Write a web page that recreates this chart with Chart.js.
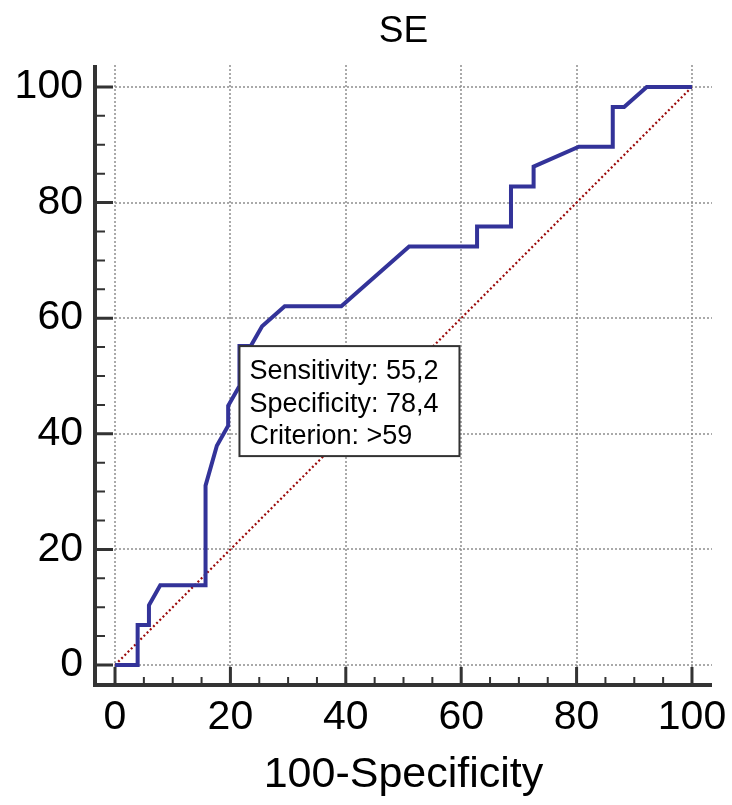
<!DOCTYPE html>
<html>
<head>
<meta charset="utf-8">
<title>SE ROC</title>
<script src="https://cdn.jsdelivr.net/npm/chart.js@4.4.0/dist/chart.umd.min.js"></script>
<style>
  html, body { margin: 0; padding: 0; background: #fff; }
  #wrap { width: 732px; height: 805px; }
</style>
</head>
<body>
<div id="wrap"><canvas id="roc" width="732" height="805"></canvas></div>
<script>
// ROC curve values (100-Specificity vs Sensitivity)
const fpr = [0, 3.92, 3.92, 5.88, 5.88, 7.84, 15.69, 15.69, 17.65, 19.61, 19.61, 21.57, 21.57, 23.53,
  25.49, 29.41, 39.22, 50.98, 62.75, 62.75, 68.63, 68.63, 72.55, 72.55, 80.39, 86.27, 86.27, 88.24, 92.16, 100];
const sens = [0, 0, 6.90, 6.90, 10.34, 13.79, 13.79, 31.03, 37.93, 41.38, 44.83, 48.28, 55.17, 55.17,
  58.62, 62.07, 62.07, 72.41, 72.41, 75.86, 75.86, 82.76, 82.76, 86.21, 89.66, 89.66, 96.55, 96.55, 100, 100];
const diagX = [0, 100];
const diagY = [0, 100];

const majorTicks = [0, 20, 40, 60, 80, 100];
const minorTicks = [5, 10, 15, 25, 30, 35, 45, 50, 55, 65, 70, 75, 85, 90, 95];

const chartTitle = "SE";
const xTitle = "100-Specificity";
const notePoint = [21.57, 55.17];
const noteLines = ["Sensitivity: 55,2", "Specificity: 78,4", "Criterion: >59"];

const FONT = "'Liberation Sans', Arial, sans-serif";

const rocAxes = {
  id: "rocAxes",
  beforeDatasetsDraw(chart) {
    const { ctx, chartArea: a, scales: { x, y } } = chart;
    ctx.save();
    ctx.strokeStyle = "#8f8f8f";
    ctx.lineWidth = 1.5;
    ctx.setLineDash([2, 2]);
    majorTicks.forEach((v) => {
      const px = Math.round(x.getPixelForValue(v));
      const py = Math.round(y.getPixelForValue(v));
      ctx.beginPath();
      ctx.moveTo(px, a.top);
      ctx.lineTo(px, a.bottom);
      ctx.stroke();
      ctx.beginPath();
      ctx.moveTo(a.left, py);
      ctx.lineTo(a.right, py);
      ctx.stroke();
    });
    ctx.restore();
  },
  afterDatasetsDraw(chart) {
    const { ctx, chartArea: a, scales: { x, y } } = chart;
    ctx.save();

    // note box
    const bx = x.getPixelForValue(notePoint[0]);
    const by = y.getPixelForValue(notePoint[1]);
    ctx.fillStyle = "#fff";
    ctx.fillRect(bx, by, 220, 110);
    ctx.strokeStyle = "#333";
    ctx.lineWidth = 2;
    ctx.strokeRect(bx, by, 220, 110);
    ctx.fillStyle = "#000";
    ctx.font = "27px " + FONT;
    ctx.textAlign = "left";
    ctx.textBaseline = "alphabetic";
    noteLines.forEach((t, i) => ctx.fillText(t, bx + 10, by + 33 + i * 32.5));

    // axis lines
    ctx.strokeStyle = "#333";
    ctx.lineWidth = 4;
    ctx.beginPath();
    ctx.moveTo(a.left, a.top);
    ctx.lineTo(a.left, a.bottom);
    ctx.lineTo(a.right, a.bottom);
    ctx.stroke();

    // ticks (pointing inward)
    ctx.lineWidth = 3;
    majorTicks.forEach((v) => {
      const px = x.getPixelForValue(v);
      const py = y.getPixelForValue(v);
      ctx.beginPath();
      ctx.moveTo(px, a.bottom);
      ctx.lineTo(px, a.bottom - 18);
      ctx.moveTo(a.left, py);
      ctx.lineTo(a.left + 18, py);
      ctx.stroke();
    });
    ctx.lineWidth = 2;
    minorTicks.forEach((v) => {
      const px = x.getPixelForValue(v);
      const py = y.getPixelForValue(v);
      ctx.beginPath();
      ctx.moveTo(px, a.bottom);
      ctx.lineTo(px, a.bottom - 8);
      ctx.moveTo(a.left, py);
      ctx.lineTo(a.left + 10, py);
      ctx.stroke();
    });

    // tick labels
    ctx.fillStyle = "#000";
    ctx.font = "41px " + FONT;
    ctx.textBaseline = "middle";
    majorTicks.forEach((v) => {
      ctx.textAlign = "center";
      ctx.fillText(String(v), x.getPixelForValue(v), 718);
      ctx.textAlign = "right";
      ctx.fillText(String(v), a.left - 12, y.getPixelForValue(v));
    });

    // titles
    const cx = (x.getPixelForValue(0) + x.getPixelForValue(100)) / 2;
    ctx.textAlign = "center";
    ctx.font = "43px " + FONT;
    ctx.fillText(xTitle, cx, 775);
    ctx.font = "37px " + FONT;
    ctx.fillText(chartTitle, cx, 32);
    ctx.restore();
  }
};

new Chart(document.getElementById("roc"), {
  type: "scatter",
  data: {
    datasets: [
      {
        data: diagX.map((v, i) => ({ x: v, y: diagY[i] })),
        showLine: true,
        borderColor: "#9b0a0a",
        borderWidth: 2.2,
        borderDash: [2, 2.5],
        pointRadius: 0,
        order: 2
      },
      {
        data: fpr.map((v, i) => ({ x: v, y: sens[i] })),
        showLine: true,
        borderColor: "#333399",
        borderWidth: 4,
        borderJoinStyle: "miter",
        pointRadius: 0,
        order: 1
      }
    ]
  },
  options: {
    responsive: false,
    devicePixelRatio: 1,
    animation: false,
    layout: { padding: { left: 95, right: 20, top: 65, bottom: 120 } },
    plugins: { legend: { display: false }, tooltip: { enabled: false } },
    scales: {
      x: { type: "linear", min: -3.47, max: 103.47, display: false },
      y: { type: "linear", min: -3.46, max: 103.8, display: false }
    }
  },
  plugins: [rocAxes]
});
</script>
</body>
</html>
